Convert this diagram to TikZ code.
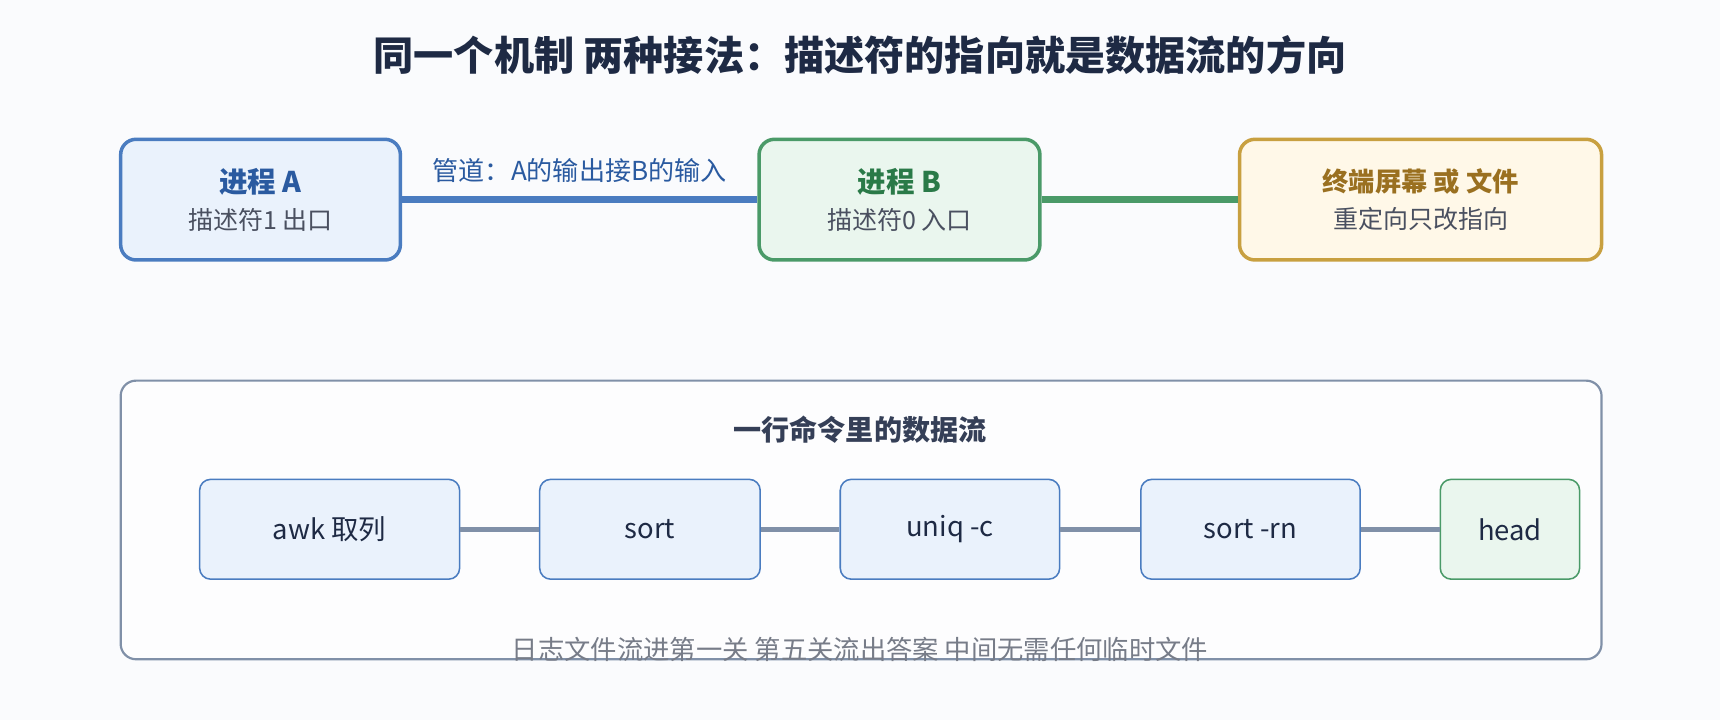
\documentclass[tikz,border=0pt]{standalone}
\usepackage{fontspec}
\setmainfont{Noto Sans CJK SC}
\usetikzlibrary{positioning}
\definecolor{bg}{HTML}{FAFBFD}
\definecolor{navy}{HTML}{1E2A44}
\definecolor{bluL}{HTML}{4A7CC0}
\definecolor{bluF}{HTML}{EAF2FC}
\definecolor{bluT}{HTML}{2A5AA0}
\definecolor{grnL}{HTML}{4A9A68}
\definecolor{grnF}{HTML}{EAF6EE}
\definecolor{grnT}{HTML}{2A7A48}
\definecolor{ylwL}{HTML}{C8A040}
\definecolor{ylwF}{HTML}{FFF8E8}
\definecolor{ylwT}{HTML}{9A7020}
\definecolor{gryL}{HTML}{8090A8}
\definecolor{gryT}{HTML}{4A5060}
\tikzset{
  proc/.style   = {draw, line width=1.6pt, rounded corners=7pt, minimum height=55pt, align=center},
  stage/.style  = {draw=bluL, fill=bluF, line width=0.7pt, rounded corners=5pt, minimum height=45.5pt, font=\fontsize{12.5}{15}\selectfont, text=navy},
  pipe/.style   = {line width=3pt},
  link/.style   = {draw=gryL, line width=2.5pt}
}
\begin{document}
\begin{tikzpicture}[x=0.5pt,y=-0.5pt]
\useasboundingbox[fill=bg] (0,0) rectangle (1568,656);

\node[font=\fontsize{18.3}{22}\selectfont\bfseries, text=navy] (title) at (784,50) {同一个机制 两种接法：描述符的指向就是数据流的方向};

% top row
\node[proc, draw=bluL, fill=bluF, minimum width=127.5pt] (pa) at (237.5,182)
  {\textcolor{bluT}{\fontsize{13}{15}\selectfont\bfseries 进程 A}\\[5pt]\textcolor{gryT}{\fontsize{11.4}{13}\selectfont 描述符1 出口}};
\node[proc, draw=grnL, fill=grnF, minimum width=128pt] (pb) at (820,182)
  {\textcolor{grnT}{\fontsize{13}{15}\selectfont\bfseries 进程 B}\\[5pt]\textcolor{gryT}{\fontsize{11.4}{13}\selectfont 描述符0 入口}};
\node[proc, draw=ylwL, fill=ylwF, minimum width=165pt] (out) at (1295,182)
  {\textcolor{ylwT}{\fontsize{12}{15}\selectfont\bfseries 终端屏幕 或 文件}\\[5pt]\textcolor{gryT}{\fontsize{11.4}{13}\selectfont 重定向只改指向}};

\draw[pipe, draw=bluL] (pa) -- node[above=3pt, text=bluT, font=\fontsize{11.9}{13}\selectfont] {管道：A的输出接B的输入} (pb);
\draw[pipe, draw=grnL] (pb) -- (out);

% pipeline panel
\node[draw=gryL, fill=white!60!bg, line width=1pt, rounded corners=7pt, minimum width=675pt, minimum height=127pt] (panel) at (785,474) {};
\node[font=\fontsize{12.8}{15}\selectfont\bfseries, text=navy!90] (ptitle) at (784,392) {一行命令里的数据流};

\node[stage, minimum width=118.5pt] (s1) at (300.5,482.5) {awk 取列};
\node[stage, minimum width=100.5pt] (s2) at (592.5,482.5) {sort};
\node[stage, minimum width=100pt] (s3) at (866,482.5) {uniq -c};
\node[stage, minimum width=100pt] (s4) at (1140,482.5) {sort -rn};
\node[stage, draw=grnL, fill=grnF, minimum width=63.5pt] (s5) at (1376.5,482.5) {head};

\foreach \a/\b in {1/2,2/3,3/4,4/5}
  \draw[link] (s\a) -- (s\b);

\node[text=gryT!75, font=\fontsize{12}{14}\selectfont] (cap) at (784,592) {日志文件流进第一关 第五关流出答案 中间无需任何临时文件};
\end{tikzpicture}
\end{document}
